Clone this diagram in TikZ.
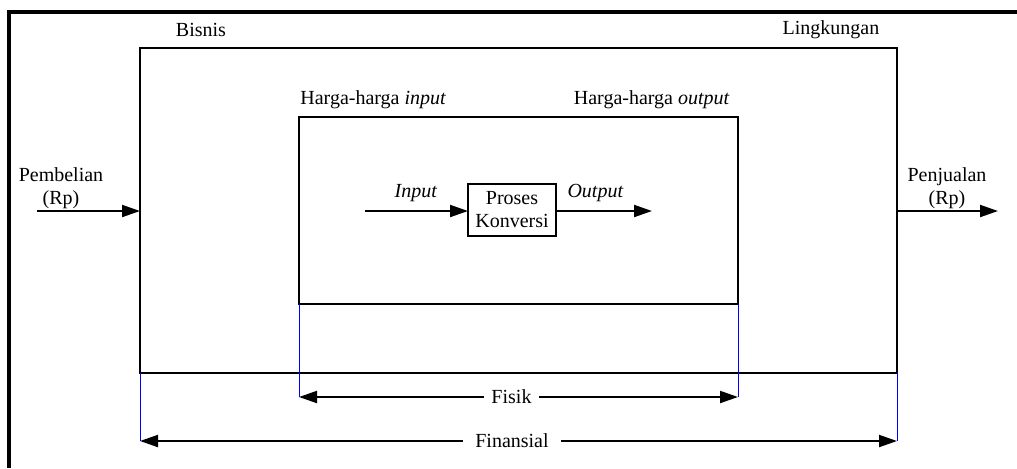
\documentclass[tikz,border=0pt]{standalone}
\usepackage{fontspec}
\setmainfont{Liberation Serif}
\usetikzlibrary{arrows.meta, positioning}

\tikzset{
  box/.style={draw, line width=1pt, inner sep=0pt, outer sep=0pt},
  flow/.style={line width=1pt, -{Triangle[length=9pt,width=6pt]}},
  guide/.style={blue, line width=0.5pt},
  lbl/.style={font=\fontsize{10pt}{11.5pt}\selectfont, align=center}
}

\begin{document}
\begin{tikzpicture}[x=0.5pt,y=-0.5pt]
    \useasboundingbox (0,0) rectangle (1017,468);
    % frame
    \draw[line width=2.3pt] (9,468) -- (9,12) -- (1017,12);
    % boxes
    \node[box, minimum width=378.5pt, minimum height=162.5pt] (bisnis) at (518.5,210.5) {};
    \node[box, minimum width=219.5pt, minimum height=93.5pt] (fisikbox) at (518.5,210.5) {};
    \node[box, lbl, minimum width=44pt, minimum height=26pt] (proses) at (512,210) {Proses\\Konversi};
    % labels
    \node[lbl] (bis) at (201,30) {Bisnis};
    \node[lbl] (ling) at (831,30) {Lingkungan};
    \node[lbl, anchor=west, inner sep=0pt] (hin) at (300,100) {Harga-harga \textit{input}};
    \node[lbl, anchor=east, inner sep=0pt] (hout) at (730,100) {Harga-harga \textit{output}};
    \node[lbl] (pemb) at (61,188) {Pembelian\\(Rp)};
    \node[lbl] (penj) at (947,188) {Penjualan\\(Rp)};
    \node[lbl] (in) at (416,193) {\textit{Input}};
    \node[lbl] (out) at (595.5,193) {\textit{Output}};
    \node[lbl] (fisik) at (511.5,397) {Fisik};
    \node[lbl, inner sep=6pt] (fin) at (512,441) {Finansial};
    % flows
    \coordinate (pembstart) at (37,211);
    \coordinate (penjend) at (998,211);
    \coordinate (instart) at (365,211);
    \coordinate (outend) at (652,211);
    \draw[flow] (pembstart) -- (pembstart -| bisnis.west);
    \draw[flow] (penjend -| bisnis.east) -- (penjend);
    \draw[flow] (instart) -- (instart -| proses.west);
    \draw[flow] (outend -| proses.east) -- (outend);
    % measures
    \coordinate (fl) at (fisikbox.south west |- fisik);
    \coordinate (fr) at (fisikbox.south east |- fisik);
    \coordinate (bl) at (bisnis.south west |- fin);
    \coordinate (br) at (bisnis.south east |- fin);
    \draw[guide] (fisikbox.south west) -- (fl);
    \draw[guide] (fisikbox.south east) -- (fr);
    \draw[guide] (bisnis.south west) -- (bl);
    \draw[guide] (bisnis.south east) -- (br);
    \draw[flow] (fisik.west) -- (fl);
    \draw[flow] (fisik.east) -- (fr);
    \draw[flow] (fin.west) -- (bl);
    \draw[flow] (fin.east) -- (br);
\end{tikzpicture}
\end{document}
